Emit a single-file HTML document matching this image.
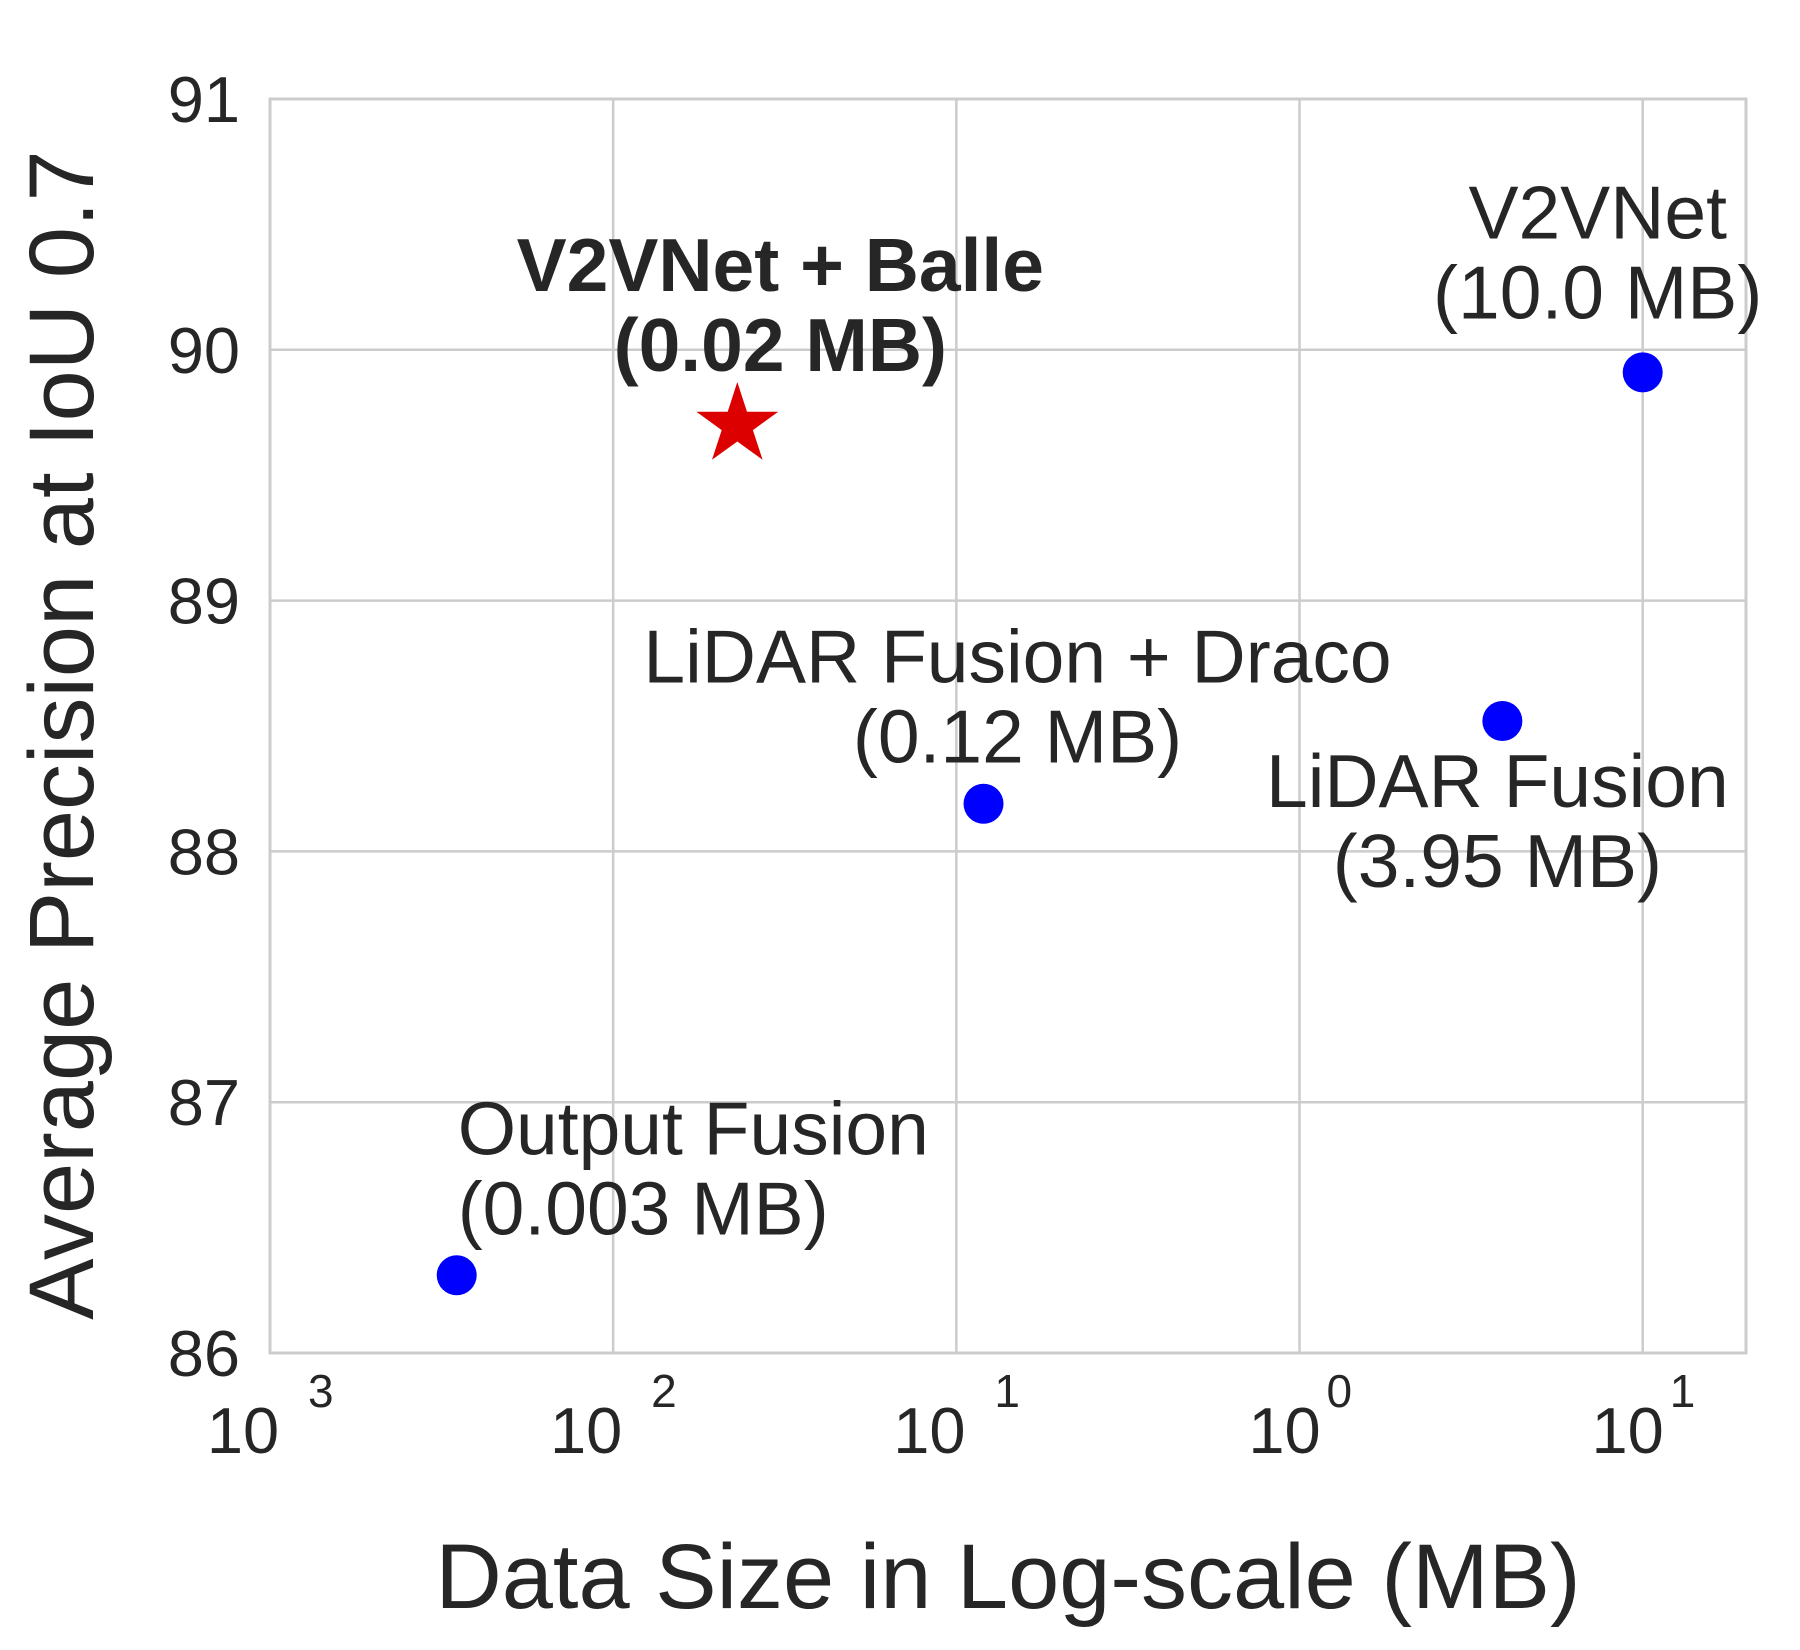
<!DOCTYPE html>
<html><head><meta charset="utf-8"><style>
html,body{margin:0;padding:0;background:#fff;}
svg{display:block;font-family:"Liberation Sans",sans-serif;}
</style></head><body>
<svg id="chart" width="1800" height="1650" viewBox="0 0 1800 1650" xmlns="http://www.w3.org/2000/svg">
<g id="grid"></g>
<g id="frame"></g>
<g id="ticks"></g>
<g id="marks"></g>
<g id="annots"></g>
<text x="1008" y="1608" font-size="92" fill="#262626" text-anchor="middle">Data Size in Log-scale (MB)</text>
<text transform="translate(93,735) rotate(-90)" font-size="92" fill="#262626" text-anchor="middle">Average Precision at IoU 0.7</text>
</svg>
<script>
const labels = ["Output Fusion", "V2VNet + Balle", "LiDAR Fusion + Draco", "LiDAR Fusion", "V2VNet"];
const sizesMB = [0.0035, 0.023, 0.12, 3.9, 10.0];
const apValues = [86.31, 89.70, 88.19, 88.52, 89.91];
const sizeLabels = ["(0.003 MB)", "(0.02 MB)", "(0.12 MB)", "(3.95 MB)", "(10.0 MB)"];
const xTickExps = [-3, -2, -1, 0, 1];
const xTickSup = ["3", "2", "1", "0", "1"];
const yTicks = [86, 87, 88, 89, 90, 91];

const L = 270, R = 1746, T = 99, B = 1353;
const xMinLog = -3, xMaxLog = Math.log10(20);
const yMin = 86, yMax = 91;
function xs(v){ return L + (Math.log10(v) - xMinLog) / (xMaxLog - xMinLog) * (R - L); }
function ys(v){ return B - (v - yMin) / (yMax - yMin) * (B - T); }
const NS = "http://www.w3.org/2000/svg";
function mk(tag, attrs, parent){ const e = document.createElementNS(NS, tag); for (const k in attrs) e.setAttribute(k, attrs[k]); parent.appendChild(e); return e; }
const grid = document.getElementById('grid'), frame = document.getElementById('frame'), ticks = document.getElementById('ticks'), marks = document.getElementById('marks'), annots = document.getElementById('annots');
const TXT = "#262626";

xTickExps.forEach((e, i) => {
  const x = xs(Math.pow(10, e));
  const gl = mk('line', {x1:x, x2:x, y1:T, y2:B, stroke:'#cccccc', 'stroke-width':2.5}, grid);
  
  
  const neg = e < 0;
  const base = mk('text', {x: x - (neg ? 27 : 15), y: 1453, 'font-size': 65, fill: TXT, 'text-anchor': 'middle'}, ticks);
  base.textContent = "10";
  
  
  const sup = mk('text', {x: x + (neg ? 38 : 27), y: 1407, 'font-size': 46, fill: TXT}, ticks);
  sup.textContent = xTickSup[i];
  
  
});
yTicks.forEach(v => {
  const y = ys(v);
  const gl = mk('line', {x1:L, x2:R, y1:y, y2:y, stroke:'#cccccc', 'stroke-width':2.5}, grid);
  
  
  const t = mk('text', {x: 240, y: y + 23, 'font-size': 65, fill: TXT, 'text-anchor': 'end'}, ticks);
  t.textContent = String(v);
  
  
});
const rect = mk('rect', {x:L, y:T, width:R-L, height:B-T, fill:'none', stroke:'#cccccc', 'stroke-width':3}, frame);



function starPath(cx, cy, r){
  const ri = r * 0.382; let d = "";
  for (let k = 0; k < 10; k++){
    const a = -Math.PI/2 + k * Math.PI/5, rr = k % 2 ? ri : r;
    d += (k ? "L" : "M") + (cx + rr*Math.cos(a)).toFixed(1) + "," + (cy + rr*Math.sin(a)).toFixed(1);
  }
  return d + "Z";
}
const annLayout = [
  {ax:'start', dx:1, dy:-121, bold:false},
  {ax:'middle', dx:43, dy:-134, bold:true},
  {ax:'middle', dx:34, dy:-121, bold:false},
  {ax:'middle', dx:-5, dy:86, bold:false},
  {ax:'middle', dx:-45, dy:-134, bold:false}
];
labels.forEach((lab, i) => {
  const cx = xs(sizesMB[i]), cy = ys(apValues[i]);
  if (i === 1) {
    const s = mk('path', {d: starPath(cx, cy, 43), fill: '#dd0000'}, marks);
    
    
  } else {
    const c = mk('ellipse', {cx: cx, cy: cy, rx: 20, ry: 20, fill: '#0000ff'}, marks);
    
    
  }
  const a = annLayout[i];
  const t1 = mk('text', {x: cx + a.dx, y: cy + a.dy, 'font-size': 75, fill: TXT, 'text-anchor': a.ax, 'font-weight': a.bold ? 'bold' : 'normal'}, annots);
  t1.textContent = lab;
  
  
  const t2 = mk('text', {x: cx + a.dx, y: cy + a.dy + 80, 'font-size': 75, fill: TXT, 'text-anchor': a.ax, 'font-weight': a.bold ? 'bold' : 'normal'}, annots);
  t2.textContent = sizeLabels[i];
  
  
});
</script>
</body></html>
